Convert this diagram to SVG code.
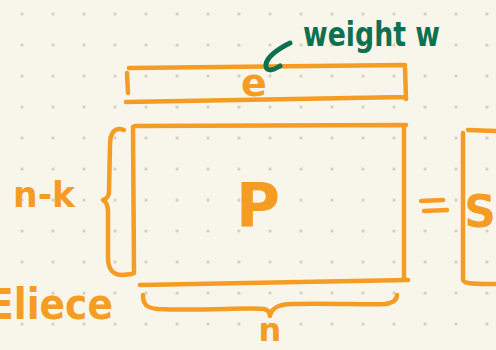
<svg xmlns="http://www.w3.org/2000/svg" width="496" height="350" viewBox="0 0 496 350">
<defs>
<pattern id="dots" x="6.5" y="-1.5" width="31" height="31" patternUnits="userSpaceOnUse">
<circle cx="15.5" cy="15.5" r="1.5" fill="#c9c8c0"/>
</pattern>
<style>
.o{fill:none;stroke:#f59c25;stroke-width:4.5;stroke-linecap:round;stroke-linejoin:round}
.g{fill:none;stroke:#0d7151;stroke-width:5;stroke-linecap:round;stroke-linejoin:round}
.to{fill:#f59c25;font-family:"DejaVu Sans",sans-serif;font-weight:bold}
.tg{fill:#0d7151;font-family:"DejaVu Sans",sans-serif;font-weight:bold}
</style>
</defs>
<rect width="496" height="350" fill="#f8f6ea"/>
<rect width="496" height="350" fill="url(#dots)"/>

<g id="e-vector">
<path class="o" d="M129,68 L405,65 M405,67 L406,99 M126,102 L406,97 M127,73 L128,93"/>
<text class="to" x="254" y="96" font-size="38" text-anchor="middle">e</text>
</g>

<g id="weight-label">
<text class="tg" x="303" y="46" font-size="34" textLength="137" lengthAdjust="spacingAndGlyphs">weight w</text>
</g>

<g id="P-matrix">
<path class="o" d="M135,126 L406,125 M404,127 L404,279 M140,285 L408,280 M133,127 L134,273"/>
<text class="to" x="258" y="226" font-size="60" text-anchor="middle">P</text>
</g>

<g id="left-brace">
<path class="o" d="M124,130 C114,126 110,134 110,145 L109,192 C109,197 106,199 103,200 C107,202 108,206 108,212 L108,258 C108,270 114,275 122,275 L132,274"/>
<text class="to" x="13" y="207" font-size="36" textLength="62" lengthAdjust="spacingAndGlyphs">n-k</text>
</g>

<g id="slice-label">
<text class="to" x="-12" y="319" font-size="42" textLength="125" lengthAdjust="spacingAndGlyphs">Eliece</text>
</g>

<g id="bottom-brace">
<path class="o" d="M143,295 C143,304 146,308 158,309 C200,311 250,307 264,309 C268,310 270,312 270,316 C271,310 275,305 290,304 C330,303 370,305 385,304 C393,303 397,300 397,295"/>
<text class="to" x="270" y="341" font-size="32" text-anchor="middle">n</text>
</g>

<g id="equals">
<path class="o" d="M421,201 L443,200 M424,211 L447,210" stroke-width="5"/>
</g>

<g id="S-vector">
<path class="o" d="M468,130 L496,131 M463,133 L463,280 C464,284 475,284 496,284"/>
<text class="to" x="480" y="227" font-size="44" text-anchor="middle">S</text>
</g>

<g id="connectors">
<path class="g" d="M290,43 C280,48 268,55 266,64 C265,72 272,71 280,66"/>
</g>
</svg>
